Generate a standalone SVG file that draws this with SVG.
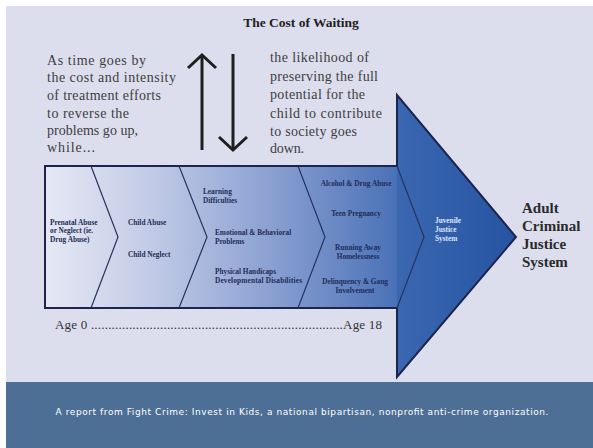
<svg xmlns="http://www.w3.org/2000/svg" width="593" height="448" viewBox="0 0 593 448">
<style>
.body{font-family:"Liberation Serif","Times New Roman",serif;fill:#3d3d3d;font-size:14px}
.title{font-family:"Liberation Serif","Times New Roman",serif;font-weight:bold;fill:#222;font-size:13.5px}
.seg{font-family:"Liberation Serif","Times New Roman",serif;font-weight:bold;fill:#1f2c58;font-size:7.3px}
.juv{font-family:"Liberation Serif","Times New Roman",serif;font-weight:bold;fill:#dfe7f8;font-size:7.3px}
.adult{font-family:"Liberation Serif","Times New Roman",serif;font-weight:bold;fill:#2a2a2a;font-size:15px}
.age{font-family:"Liberation Serif","Times New Roman",serif;fill:#333;font-size:13px}
.foot{font-family:"DejaVu Sans","Liberation Sans",sans-serif;fill:#ffffff;font-size:9px}
.div{fill:none;stroke:#27335e;stroke-width:1.2}
.arr{fill:none;stroke:#1e1e1e;stroke-width:3;stroke-linecap:butt}
</style>
<defs>
<linearGradient id="gBody" gradientUnits="userSpaceOnUse" x1="45" y1="0" x2="397" y2="0">
<stop offset="0" stop-color="#e6e8f4"/>
<stop offset="0.3" stop-color="#c2cbe6"/>
<stop offset="0.62" stop-color="#8ea3d3"/>
<stop offset="1" stop-color="#4a71b7"/>
</linearGradient>
<linearGradient id="gHead" gradientUnits="userSpaceOnUse" x1="397" y1="0" x2="516" y2="0">
<stop offset="0" stop-color="#3b67b1"/>
<stop offset="1" stop-color="#2654a2"/>
</linearGradient>
</defs>
<rect x="0" y="0" width="593" height="448" fill="#ffffff"/>
<rect x="6" y="6" width="587" height="442" fill="#dcdeed"/>
<g id="title"><text class="title" x="301" y="27" text-anchor="middle">The Cost of Waiting</text></g>
<g id="left-text">
<text class="body" x="47" y="65" textLength="99">As time goes by</text>
<text class="body" x="47" y="82" textLength="129">the cost and intensity</text>
<text class="body" x="47" y="100" textLength="114">of treatment efforts</text>
<text class="body" x="47" y="118" textLength="82">to reverse the</text>
<text class="body" x="47" y="135" textLength="91">problems go up,</text>
<text class="body" x="47" y="152" textLength="48">while...</text>
</g>
<g id="right-text">
<text class="body" x="270" y="62" textLength="99">the likelihood of</text>
<text class="body" x="270" y="81" textLength="108">preserving the full</text>
<text class="body" x="270" y="99" textLength="95">potential for the</text>
<text class="body" x="270" y="118" textLength="112">child to contribute</text>
<text class="body" x="270" y="136" textLength="87">to society goes</text>
<text class="body" x="270" y="153" textLength="34">down.</text>
</g>
<g id="big-arrow">
<rect x="45" y="166" width="352" height="142" fill="url(#gBody)"/>
<polygon points="397,95 516,237 397,377" fill="url(#gHead)"/>
<path d="M45,166 L397,166 L397,95 L516,237 L397,377 L397,308 L45,308 Z" fill="none" stroke="#1b2550" stroke-width="2" stroke-linejoin="miter"/>
<polyline class="div" points="91,166 118,237 91,308"/>
<polyline class="div" points="179,166 207,237 179,308"/>
<polyline class="div" points="298,166 325,237 298,308"/>
<polyline class="div" points="397,166 424,237 397,308"/>
</g>
<g id="seg-prenatal">
<text class="seg" x="50" y="224.5">Prenatal Abuse</text>
<text class="seg" x="50" y="233">or Neglect (ie.</text>
<text class="seg" x="50" y="241.5">Drug Abuse)</text>
</g>
<g id="seg-child">
<text class="seg" x="128" y="224.5">Child Abuse</text>
<text class="seg" x="128" y="256.5">Child Neglect</text>
</g>
<g id="seg-school">
<text class="seg" x="203" y="194">Learning</text>
<text class="seg" x="203" y="203">Difficulties</text>
<text class="seg" x="215" y="234.5">Emotional &amp; Behavioral</text>
<text class="seg" x="215" y="243.5">Problems</text>
<text class="seg" x="215" y="273.5">Physical Handicaps</text>
<text class="seg" x="215" y="283" textLength="87">Developmental Disabilities</text>
</g>
<g id="seg-teen">
<text class="seg" x="356" y="185.5" text-anchor="middle">Alcohol &amp; Drug Abuse</text>
<text class="seg" x="356" y="215.5" text-anchor="middle">Teen Pregnancy</text>
<text class="seg" x="358" y="250" text-anchor="middle">Running Away</text>
<text class="seg" x="358" y="259" text-anchor="middle">Homelessness</text>
<text class="seg" x="355" y="284" text-anchor="middle">Delinquency &amp; Gang</text>
<text class="seg" x="355" y="293" text-anchor="middle">Involvement</text>
</g>
<g id="seg-juvenile">
<text class="juv" x="435" y="223">Juvenile</text>
<text class="juv" x="435" y="232">Justice</text>
<text class="juv" x="435" y="241">System</text>
</g>
<g id="adult">
<text class="adult" x="522" y="213">Adult</text>
<text class="adult" x="522" y="231">Criminal</text>
<text class="adult" x="522" y="249">Justice</text>
<text class="adult" x="522" y="267">System</text>
</g>
<g id="age"><text class="age" x="55" y="329" textLength="327" lengthAdjust="spacing">Age 0 .........................................................................Age 18</text></g>
<g id="connectors">
<line class="arr" x1="202" y1="150" x2="202" y2="56"/>
<polyline class="arr" points="188,68 202,55 216,68"/>
<line class="arr" x1="233" y1="54" x2="233" y2="149"/>
<polyline class="arr" points="219,137 233,150 247,137"/>
</g>
<g id="footer">
<rect x="6" y="382" width="587" height="66" fill="#4d6e95"/>
<text class="foot" x="302" y="415" text-anchor="middle" textLength="493">A report from Fight Crime: Invest in Kids, a national bipartisan, nonprofit anti-crime organization.</text>
</g>
</svg>
